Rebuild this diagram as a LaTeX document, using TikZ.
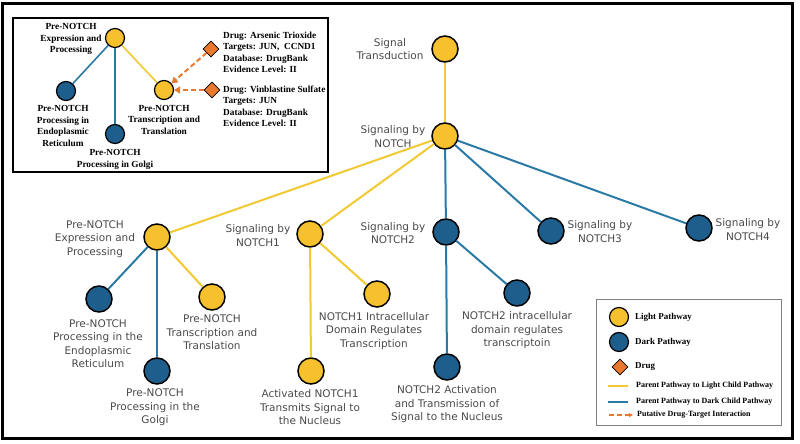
\documentclass[tikz,border=0pt]{standalone}
\usepackage{xcolor}
\usepackage{tikz}
\usepackage{fontspec}
\setmainfont{Liberation Serif}
\newfontfamily\lblfont{DejaVu Sans}
\usetikzlibrary{shapes.geometric,arrows.meta}
\definecolor{pwlight}{HTML}{F6C12C}
\definecolor{pwdark}{HTML}{1D5E8C}
\definecolor{edlight}{HTML}{F3C933}
\definecolor{eddark}{HTML}{2B7AA6}
\definecolor{drugorg}{HTML}{E8792F}
\definecolor{lblgray}{HTML}{4A4A4A}

\begin{document}
\begin{tikzpicture}[x=1pt,y=-1pt,
  light/.style={circle,draw=black,line width=1.5pt,fill=pwlight,minimum size=26pt,inner sep=0pt},
  dark/.style={light,fill=pwdark},
  slight/.style={light,line width=1.2pt,minimum size=19pt},
  sdark/.style={slight,fill=pwdark},
  drug/.style={diamond,draw=black,line width=0.8pt,fill=drugorg,minimum size=16pt,inner sep=0pt},
  lbl/.style={align=center,text=lblgray,font=\lblfont\fontsize{10.5}{13.5}\selectfont,inner sep=0pt},
  tlbl/.style={align=center,font=\bfseries\fontsize{9.3}{11.5}\selectfont,inner sep=0pt},
  dlbl/.style={tlbl,align=left,anchor=west},
  klbl/.style={anchor=west,font=\bfseries\fontsize{9}{11}\selectfont,inner sep=0pt},
  kslbl/.style={anchor=west,font=\bfseries\fontsize{8}{10}\selectfont,inner sep=0pt},
  tolight/.style={edlight,line width=2pt},
  todark/.style={eddark,line width=2pt},
  putative/.style={drugorg,line width=2pt,dash pattern=on 5pt off 3pt,-{Triangle[length=6pt,width=7pt]}},
]
  \useasboundingbox (0,0) rectangle (800,444);
  \draw[line width=3pt] (2.5,3.5) rectangle (792.5,438.5);

  \node[light] (st) at (445,49) {};
  \node[light] (sn) at (445,136) {};
  \node[light] (pe) at (157,237) {};
  \node[dark] (per) at (99,299) {};
  \node[light] (ptt) at (212,297) {};
  \node[dark] (pgo) at (157,371) {};
  \node[light] (sn1) at (310,234) {};
  \node[light] (n1icd) at (377,294) {};
  \node[light] (n1act) at (311,371) {};
  \node[dark] (sn2) at (446,232) {};
  \node[dark] (n2icd) at (517,293) {};
  \node[dark] (n2act) at (447,367) {};
  \node[dark] (sn3) at (551,231) {};
  \node[dark] (sn4) at (699,228) {};

  \node[lbl] (st-t) at (390,49) {Signal\\Transduction};
  \node[lbl] (sn-t) at (393,136.5) {Signaling by\\NOTCH};
  \node[lbl] (pe-t) at (95,239) {Pre-NOTCH\\Expression and\\Processing};
  \node[lbl] (per-t) at (98,343.5) {Pre-NOTCH\\Processing in the\\Endoplasmic\\Reticulum};
  \node[lbl] (ptt-t) at (212,332.5) {Pre-NOTCH\\Transcription and\\Translation};
  \node[lbl] (pgo-t) at (155,407.5) {Pre-NOTCH\\Processing in the\\Golgi};
  \node[lbl] (sn1-t) at (258,235.5) {Signaling by\\NOTCH1};
  \node[lbl] (n1icd-t) at (374,331) {NOTCH1 Intracellular\\Domain Regulates\\Transcription};
  \node[lbl] (n1act-t) at (310,407.5) {Activated NOTCH1\\Transmits Signal to\\the Nucleus};
  \node[lbl] (sn2-t) at (393,233) {Signaling by\\NOTCH2};
  \node[lbl] (n2icd-t) at (517,330.5) {NOTCH2 intracellular\\domain regulates\\transcriptoin};
  \node[lbl] (n2act-t) at (447,404.5) {NOTCH2 Activation\\and Transmission of\\Signal to the Nucleus};
  \node[lbl] (sn3-t) at (600,231.5) {Signaling by\\NOTCH3};
  \node[lbl] (sn4-t) at (748,229.5) {Signaling by\\NOTCH4};

  \draw[tolight] (st) -- (sn);
  \draw[tolight] (sn) -- (pe);
  \draw[tolight] (sn) -- (sn1);
  \draw[todark] (sn) -- (sn2);
  \draw[todark] (sn) -- (sn3);
  \draw[todark] (sn) -- (sn4);
  \draw[todark] (pe) -- (per);
  \draw[todark] (pe) -- (pgo);
  \draw[tolight] (pe) -- (ptt);
  \draw[tolight] (sn1) -- (n1icd);
  \draw[tolight] (sn1) -- (n1act);
  \draw[todark] (sn2) -- (n2icd);
  \draw[todark] (sn2) -- (n2act);

  \fill[white] (13,18) rectangle (328,172);
  \draw[line width=2.5pt] (13,18) rectangle (328,172);
  \node[slight] (ipe) at (115,38) {};
  \node[sdark] (iper) at (66,91) {};
  \node[sdark] (ipgo) at (115,134) {};
  \node[slight] (iptt) at (164,90) {};
  \node[drug] (drA) at (211,49) {};
  \node[drug] (drV) at (212,90) {};
  \node[tlbl] (ipe-t) at (71,39) {Pre-NOTCH\\Expression and\\Processing};
  \node[tlbl] (iper-t) at (63,126) {Pre-NOTCH\\Processing in\\Endoplasmic\\Reticulum};
  \node[tlbl] (ipgo-t) at (115,159.5) {Pre-NOTCH\\Processing in Golgi};
  \node[tlbl] (iptt-t) at (164,119.5) {Pre-NOTCH\\Transcription and\\Translation};
  \node[dlbl] (drA-t) at (223,52.5) {Drug: Arsenic Trioxide\\Targets: JUN,\ \ CCND1\\Database: DrugBank\\Evidence Level: II};
  \node[dlbl] (drV-t) at (223,106.5) {Drug: Vinblastine Sulfate\\Targets: JUN\\Database: DrugBank\\Evidence Level: II};
  \draw[todark,line width=1.6pt] (ipe) -- (iper);
  \draw[todark,line width=1.6pt] (ipe) -- (ipgo);
  \draw[tolight,line width=1.6pt] (ipe) -- (iptt);
  \draw[putative] (drA) -- (iptt);
  \draw[putative] (drV) -- (iptt);

  \draw[gray,line width=0.8pt] (596,299) rectangle (781,425);
  \node[slight] (lgl) at (619,317) {};
  \node[sdark] (lgd) at (619,342) {};
  \node[drug] (lgdr) at (620,367) {};
  \coordinate (ka) at (608,386);
  \coordinate (kb) at (628,386);
  \coordinate (kc) at (608,402);
  \coordinate (kd) at (628,402);
  \coordinate (ke) at (609,415);
  \coordinate (kf) at (633,415);
  \draw[tolight,line width=1.3pt] (ka) -- (kb);
  \draw[todark,line width=1.3pt] (kc) -- (kd);
  \draw[putative,line width=1.2pt,-{Triangle[length=4pt,width=4pt]}] (ke) -- (kf);
  \node[klbl] (lgl-t) at (635,317) {Light Pathway};
  \node[klbl] (lgd-t) at (635,342) {Dark Pathway};
  \node[klbl] (lgdr-t) at (635,367) {Drug};
  \node[kslbl] (kb-t) at (636,386) {Parent Pathway to Light Child Pathway};
  \node[kslbl] (kd-t) at (636,402) {Parent Pathway to Dark Child Pathway};
  \node[kslbl] (kf-t) at (637,415) {Putative Drug-Target Interaction};
\end{tikzpicture}
\end{document}
